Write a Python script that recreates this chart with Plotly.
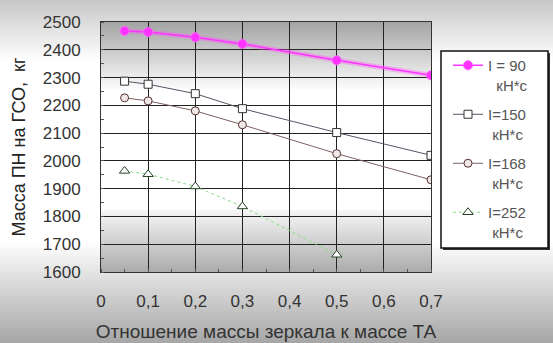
import plotly.graph_objects as go

W, H = 553, 343
L, R, T, B = 101, 122, 22, 71
PW, PH = W - L - R, H - T - B

x_vals = [0.05, 0.1, 0.2, 0.3, 0.5, 0.7]
x_252 = [0.05, 0.1, 0.2, 0.3, 0.5]
m_90 = [2468, 2464, 2445, 2421, 2362, 2308]
m_150 = [2287, 2276, 2242, 2188, 2102, 2020]
m_168 = [2227, 2216, 2180, 2130, 2026, 1932]
m_252 = [1964, 1952, 1908, 1836, 1662]
x_ticks = [0, 0.1, 0.2, 0.3, 0.4, 0.5, 0.6, 0.7]
x_tick_text = ["0", "0,1", "0,2", "0,3", "0,4", "0,5", "0,6", "0,7"]
y_ticks = list(range(1600, 2501, 100))

FONT = "Liberation Sans, Arial, sans-serif"

fig = go.Figure()
fig.add_trace(go.Scatter(x=x_vals, y=m_90, mode="lines", line=dict(color="rgba(255,80,255,0.35)", width=5),
                         showlegend=False, hoverinfo="skip"))
fig.add_trace(go.Scatter(x=x_vals, y=m_90, mode="lines+markers", name="I = 90<br>  кН*с", legendgroup="a",
                         line=dict(color="#ff33ff", width=1.5),
                         marker=dict(symbol="circle", size=9, color="#ff33ff", line=dict(color="#ff66ff", width=1))))
fig.add_trace(go.Scatter(x=x_vals, y=m_150, mode="lines+markers", name="I=150<br> кН*с", legendgroup="b",
                         line=dict(color="#555566", width=1),
                         marker=dict(symbol="square", size=8, color="white", line=dict(color="#333333", width=1))))
fig.add_trace(go.Scatter(x=x_vals, y=m_168, mode="lines+markers", name="I=168<br> кН*с", legendgroup="c",
                         line=dict(color="#806060", width=1),
                         marker=dict(symbol="circle", size=8, color="#f0e8e8", line=dict(color="#553333", width=1))))
fig.add_trace(go.Scatter(x=x_252, y=m_252, mode="lines+markers", name="I=252<br> кН*с", legendgroup="d",
                         line=dict(color="#88dd88", width=1, dash="dot"),
                         marker=dict(symbol="triangle-up", size=9, color="white", line=dict(color="#224422", width=1))))


def py2paper(py):
    return (H - B - py) / PH


def px2paper(px):
    return (px - L) / PW


def grey(v):
    v = int(round(v))
    return f"rgb({v},{v},{v})"


shapes = []
shapes.append(dict(type="rect", xref="paper", yref="paper", x0=px2paper(0), x1=px2paper(W),
                   y0=py2paper(H), y1=py2paper(0), fillcolor="white", line_width=0, layer="below"))
step = 2
for py in range(0, 60, step):
    t = py / 60
    c = 200 + (255 - 200) * t
    shapes.append(dict(type="rect", xref="paper", yref="paper", x0=px2paper(0), x1=px2paper(W),
                       y0=py2paper(py + step), y1=py2paper(py), fillcolor=grey(c), line_width=0, layer="below"))
for py in range(240, H, step):
    t = (py - 240) / (H - 240)
    c = 255 - (255 - 165) * t
    shapes.append(dict(type="rect", xref="paper", yref="paper", x0=px2paper(0), x1=px2paper(W),
                       y0=py2paper(py + step), y1=py2paper(py), fillcolor=grey(c), line_width=0, layer="below"))
shapes.append(dict(type="rect", xref="paper", yref="paper", x0=0, x1=1, y0=0, y1=1,
                   fillcolor="white", line_width=0, layer="below"))
for py in range(T, 90, step):
    t = (py - T) / (90 - T)
    c = 165 + (255 - 165) * t
    shapes.append(dict(type="rect", xref="paper", yref="paper", x0=0, x1=1,
                       y0=py2paper(py + step), y1=py2paper(py), fillcolor=grey(c), line_width=0, layer="below"))
for py in range(210, H - B, step):
    t = (py - 210) / (H - B - 210)
    c = 245 - (245 - 170) * t
    shapes.append(dict(type="rect", xref="paper", yref="paper", x0=0, x1=1,
                       y0=py2paper(py + step), y1=py2paper(py), fillcolor=grey(c), line_width=0, layer="below"))
# legend box with shadow
shapes.append(dict(type="rect", xref="paper", yref="paper", x0=px2paper(443), x1=px2paper(550),
                   y0=py2paper(250), y1=py2paper(53), fillcolor="#333333", line_width=0, layer="above"))
shapes.append(dict(type="rect", xref="paper", yref="paper", x0=px2paper(441), x1=px2paper(548),
                   y0=py2paper(248), y1=py2paper(51), fillcolor="white",
                   line=dict(color="#111111", width=1.5), layer="above"))

fig.update_layout(
    width=W, height=H,
    margin=dict(l=L, r=R, t=T, b=B, pad=0, autoexpand=False),
    paper_bgcolor="white",
    plot_bgcolor="rgba(0,0,0,0)",
    font=dict(family=FONT, color="#222222"),
    shapes=shapes,
    showlegend=True,
    legend=dict(x=px2paper(448), y=py2paper(49), xanchor="left", yanchor="top",
                bgcolor="rgba(0,0,0,0)", borderwidth=0,
                font=dict(family=FONT, size=15, color="#555555"),
                tracegroupgap=7, itemwidth=30, valign="top", traceorder="grouped"),
    xaxis=dict(range=[0, 0.7], tickvals=x_ticks, ticktext=x_tick_text,
               showgrid=True, gridcolor="#222222", gridwidth=1,
               showline=True, linecolor="#333333", linewidth=1, mirror=True,
               ticks="", ticklabelstandoff=14, zeroline=False,
               minor=dict(ticks="inside", ticklen=3, dtick=0.05, tick0=0, tickcolor="#555555", showgrid=False),
               tickfont=dict(size=17, color="#333333"),
               title=dict(text="Отношение массы зеркала к массе ТА", font=dict(size=19, color="#333333"), standoff=14)),
    yaxis=dict(range=[1600, 2500], tickvals=y_ticks,
               showgrid=True, gridcolor="#222222", gridwidth=1,
               showline=True, linecolor="#333333", linewidth=1, mirror=True,
               ticks="", ticklabelstandoff=16, zeroline=False,
               minor=dict(ticks="inside", ticklen=3, dtick=50, tick0=1600, tickcolor="#555555", showgrid=False),
               tickfont=dict(size=17, color="#333333"),
               title=dict(text="Масса ПН на ГСО,  кг", font=dict(size=18, color="#222222"), standoff=12)),
)

fig.write_html("out.html", config={"displayModeBar": False},
               post_script="document.body.style.margin='0';")
